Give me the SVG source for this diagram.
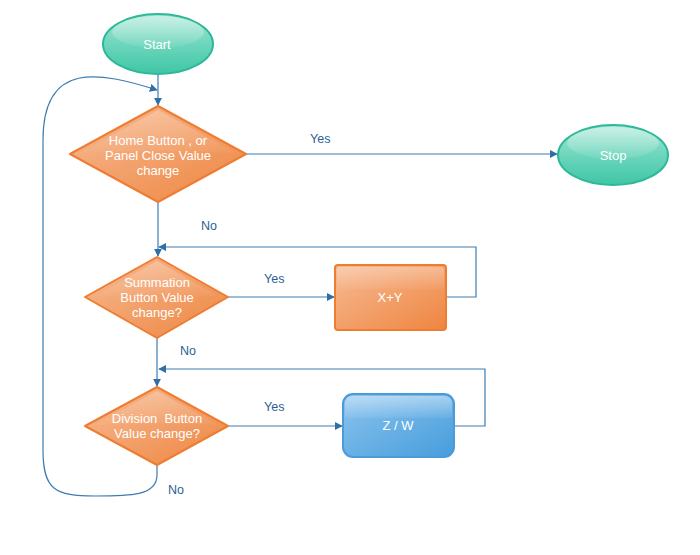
<svg xmlns="http://www.w3.org/2000/svg" width="700" height="555" viewBox="0 0 700 555">
<defs>
<linearGradient id="gOr" x1="0" y1="0" x2="1" y2="1">
<stop offset="0" stop-color="#f7bb94"/><stop offset="1" stop-color="#ee8540"/>
</linearGradient>
<linearGradient id="gTe" x1="0" y1="0" x2="0" y2="1">
<stop offset="0" stop-color="#a5e6d4"/><stop offset="0.5" stop-color="#6dd6bc"/><stop offset="1" stop-color="#3fc6a6"/>
</linearGradient>
<linearGradient id="gBl" x1="0" y1="0" x2="1" y2="1">
<stop offset="0" stop-color="#8cc4ee"/><stop offset="1" stop-color="#469ddc"/>
</linearGradient>
<linearGradient id="gHi" x1="0" y1="0" x2="0" y2="1">
<stop offset="0" stop-color="#ffffff" stop-opacity="0.7"/><stop offset="1" stop-color="#ffffff" stop-opacity="0.1"/>
</linearGradient>
<marker id="arr" viewBox="0 0 10 10" refX="9" refY="5" markerWidth="8" markerHeight="8" markerUnits="userSpaceOnUse" orient="auto">
<path d="M0,0 L10,5 L0,10 z" fill="#2f6fa6"/>
</marker>
<style>
.lbl{font-family:"Liberation Sans",Arial,sans-serif;font-size:13px;fill:#ffffff;text-anchor:middle;white-space:pre}
.el{font-family:"Liberation Sans",Arial,sans-serif;font-size:12.5px;fill:#2d5f96}
.con{fill:none;stroke:#3d7db4;stroke-width:1.2}
.dia{fill:url(#gOr);stroke:#ee7d32;stroke-width:2;stroke-linejoin:round}
.ell{fill:url(#gTe);stroke:#2db898;stroke-width:2}
</style>
</defs>
<rect width="700" height="555" fill="#ffffff"/>
<g id="connectors">
<path class="con" d="M158,74 L158,105" marker-end="url(#arr)"/>
<path class="con" d="M157,465 L157,475 C157,496 130,496 95,496 C55,496 43,490 43,450 L43,140 C43,60 100,72 157,90" marker-end="url(#arr)"/>
<path class="con" d="M246,154 L557,154" marker-end="url(#arr)"/>
<path class="con" d="M158,202 L158,256" marker-end="url(#arr)"/>
<path class="con" d="M228,297 L334,297" marker-end="url(#arr)"/>
<path class="con" d="M446,297 L476,297 L476,247 L159,247" marker-end="url(#arr)"/>
<path class="con" d="M157,338 L157,386" marker-end="url(#arr)"/>
<path class="con" d="M228,426 L342,426" marker-end="url(#arr)"/>
<path class="con" d="M454,426 L485,426 L485,369 L159,369" marker-end="url(#arr)"/>
<text class="el" x="310" y="143">Yes</text>
<text class="el" x="201" y="230">No</text>
<text class="el" x="264" y="283">Yes</text>
<text class="el" x="180" y="355">No</text>
<text class="el" x="264" y="411">Yes</text>
<text class="el" x="168" y="494">No</text>
</g>
<g id="start">
<ellipse class="ell" cx="158" cy="44" rx="55" ry="30"/>
<ellipse cx="158" cy="32" rx="46" ry="16" fill="url(#gHi)" opacity="0.6"/>
<text class="lbl" x="157" y="49">Start</text>
</g>
<g id="stop">
<ellipse class="ell" cx="613" cy="155" rx="55" ry="30"/>
<ellipse cx="613" cy="143" rx="46" ry="16" fill="url(#gHi)" opacity="0.6"/>
<text class="lbl" x="613" y="160">Stop</text>
</g>
<g id="d1">
<path class="dia" d="M158,106 L246,154 L158,202 L70,154 Z"/>
<path d="M158,110 L236,153 Q158,150 80,153 Z" fill="url(#gHi)" opacity="0.35"/>
<text class="lbl" x="158" y="145">Home Button , or</text>
<text class="lbl" x="158" y="160">Panel Close Value</text>
<text class="lbl" x="158" y="175">change</text>
</g>
<g id="d2">
<path class="dia" d="M157,257 L228,297 L157,338 L85,297 Z"/>
<path d="M157,261 L218,296 Q157,293 95,296 Z" fill="url(#gHi)" opacity="0.35"/>
<text class="lbl" x="157" y="287">Summation</text>
<text class="lbl" x="157" y="302">Button Value</text>
<text class="lbl" x="157" y="317">change?</text>
</g>
<g id="xy">
<rect x="335" y="265" width="111" height="65" rx="3" fill="url(#gOr)" stroke="#ee7d32" stroke-width="2"/>
<rect x="337" y="267" width="107" height="22" rx="3" fill="url(#gHi)" opacity="0.4"/>
<text class="lbl" x="390" y="302">X+Y</text>
</g>
<g id="d3">
<path class="dia" d="M157,387 L228,426 L157,465 L85,426 Z"/>
<path d="M157,391 L218,425 Q157,422 95,425 Z" fill="url(#gHi)" opacity="0.35"/>
<text class="lbl" x="157" y="423" xml:space="preserve">Division  Button</text>
<text class="lbl" x="157" y="438">Value change?</text>
</g>
<g id="zw">
<rect x="343" y="394" width="111" height="63" rx="10" fill="url(#gBl)" stroke="#4a9bd8" stroke-width="2"/>
<path d="M345,418 L345,404 Q345,396 353,396 L444,396 Q452,396 452,404 L452,418 Z" fill="url(#gHi)" opacity="0.6"/>
<text class="lbl" x="398" y="430">Z / W</text>
</g>
</svg>
